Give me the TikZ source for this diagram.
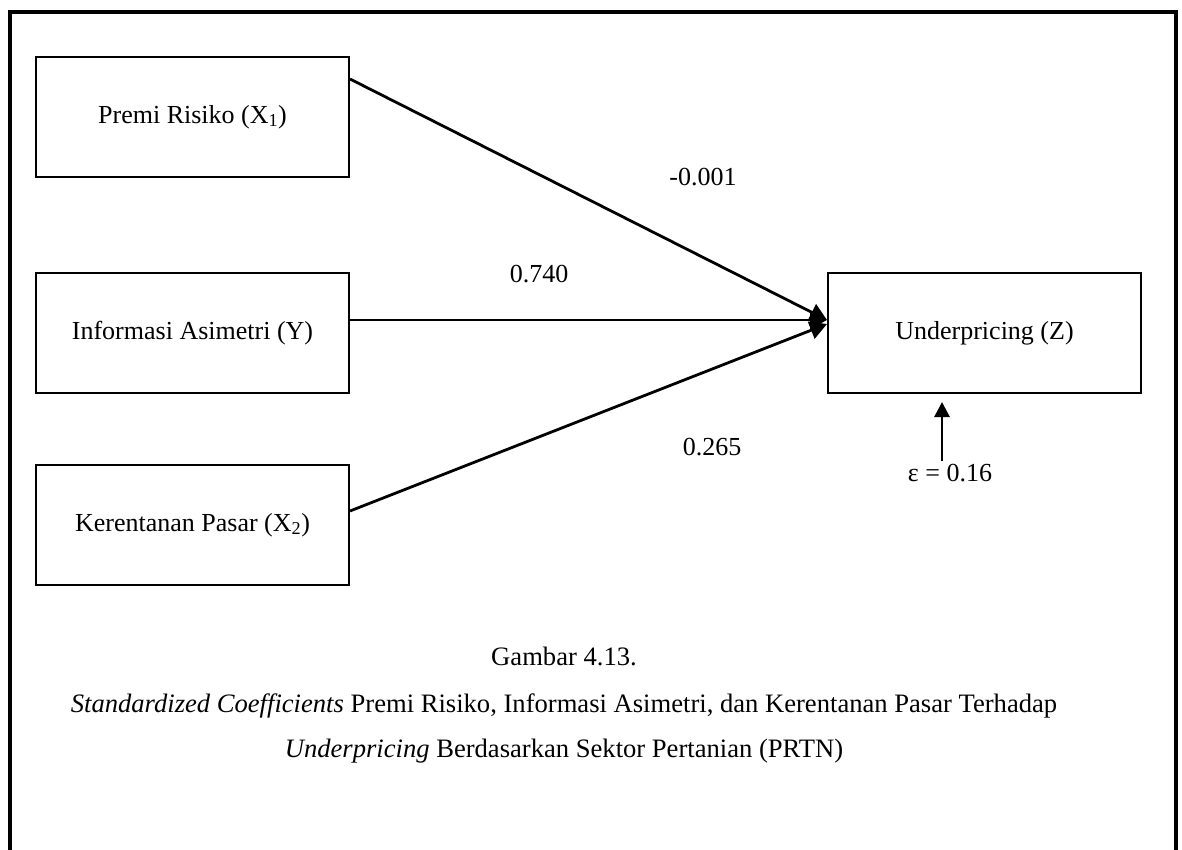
\documentclass[tikz,border=0pt]{standalone}
\usepackage{fontspec}
\setmainfont{Liberation Serif}
\usetikzlibrary{arrows.meta,calc}
\begin{document}
\begin{tikzpicture}[x=1pt,y=-1pt,
  varbox/.style={draw=black,line width=2pt,minimum width=313pt,minimum height=120pt,
    inner sep=0pt,font=\fontsize{26}{31}\selectfont},
  lbl/.style={anchor=base,inner sep=0pt,font=\fontsize{26}{31}\selectfont},
  caplbl/.style={anchor=base,inner sep=0pt,font=\fontsize{26.6}{32}\selectfont},
  path/.style={line width=2.8pt,-{Triangle[length=17pt,width=18pt]}},
  errpath/.style={line width=2.8pt,-{Triangle[length=15pt,width=15pt]}}]
\useasboundingbox (0,0) rectangle (1182,850);
% outer frame, open at the bottom
\draw[line width=4pt] (9.8,860) -- (9.8,11.7) -- (1175.8,11.7) -- (1175.8,860);

% variable boxes
\node[varbox] (prem) at (192.5,117) {Premi Risiko (X\textsubscript{1})};
\node[varbox] (info) at (192.5,333) {Informasi Asimetri (Y)};
\node[varbox] (kren) at (192.5,525) {Kerentanan Pasar (X\textsubscript{2})};
\node[varbox] (undr) at (984.5,333) {Underpricing (Z)};

% connector end points
\coordinate (premout) at ($(prem.north east)+(0,23)$);
\coordinate (infoout) at ($(info.north east)+(0,48)$);
\coordinate (krenout) at ($(kren.north east)+(0,47)$);
\coordinate (undrin)  at ($(undr.north west)+(0,48)$);
\coordinate (undrin2) at ($(undr.north west)+(0,52)$);
\coordinate (epsfoot) at ($(undr.south west)+(115,67)$);
\coordinate (epshead) at ($(undr.south west)+(115,8)$);

\draw[path] (premout) -- (undrin);
\draw[path] (krenout) -- (undrin2);
\draw[path] (infoout) -- (undrin);
\draw[errpath] (epsfoot) -- (epshead);

% path coefficients
\node[lbl] (c1) at (703,186) {-0.001};
\node[lbl] (c2) at (539,282) {0.740};
\node[lbl] (c3) at (712,455) {0.265};
\node[lbl] (eps) at (950,481) {ε = 0.16};

% caption
\node[caplbl] (cap1) at (564,665) {Gambar 4.13.};
\node[caplbl] (cap2) at (564,712) {\textit{Standardized Coefficients} Premi Risiko, Informasi Asimetri, dan Kerentanan Pasar Terhadap};
\node[caplbl] (cap3) at (564,757) {\textit{Underpricing} Berdasarkan Sektor Pertanian (PRTN)};
\end{tikzpicture}
\end{document}
